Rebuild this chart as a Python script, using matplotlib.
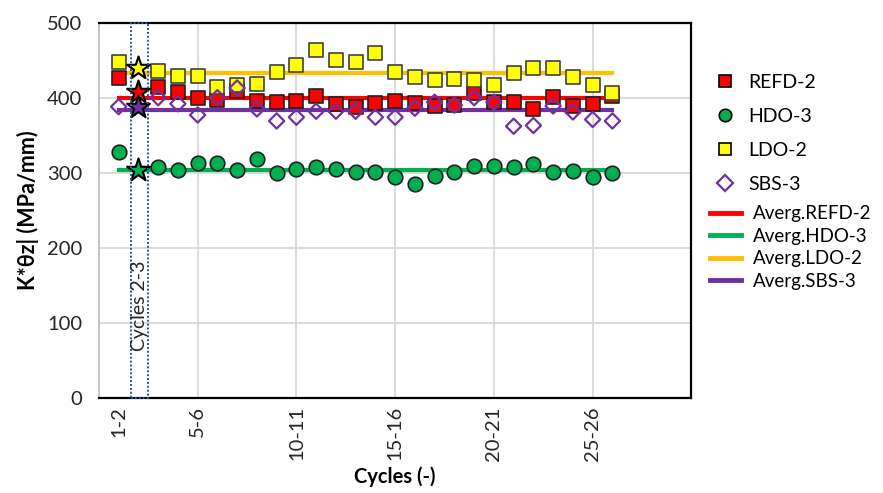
import numpy as np
import matplotlib.pyplot as plt
from matplotlib.patches import Rectangle
from matplotlib.lines import Line2D

plt.rcParams['font.family'] = ['Lato', 'DejaVu Sans']

# cycle index (1 = cycles 1-2, 2 = cycles 2-3, ...)
cycle = np.arange(1, 27)
tick_pos = [1, 5, 10, 15, 20, 25]
tick_labels = ['1-2', '5-6', '10-11', '15-16', '20-21', '25-26']

refd = [426, 408, 414, 408, 399, 397, 409, 395, 394, 396, 402, 392, 387,
        393, 396, 393, 389, 390, 406, 394, 394, 385, 401, 389, 391, 402]
hdo = [328, 304, 307, 303, 313, 313, 304, 318, 300, 305, 308, 305, 301,
       301, 294, 285, 295, 301, 309, 309, 308, 311, 301, 302, 294, 300]
ldo = [447, 440, 435, 429, 429, 414, 417, 418, 434, 443, 464, 450, 447,
       459, 434, 428, 423, 425, 423, 417, 433, 440, 439, 428, 417, 406]
sbs = [388, 388, 400, 392, 377, 400, 413, 385, 369, 374, 382, 382, 382,
       374, 374, 386, 394, 390, 400, 394, 362, 363, 389, 381, 371, 369]

# averages as drawn
avg_refd = 399
avg_hdo = 304
avg_ldo = 433
avg_sbs = 383

fig = plt.figure(figsize=(8.83, 4.93), dpi=100)
ax = fig.add_axes([0.112, 0.193, 0.671, 0.761])

# grid
for v in [100, 200, 300, 400]:
    ax.axhline(v, color='#d9d9d9', lw=1.3, zorder=0)
for v in [5, 10, 15, 20, 25]:
    ax.axvline(v, color='#d9d9d9', lw=1.3, zorder=0)

# average lines
ax.plot([1, 26], [avg_refd] * 2, color='#ff0000', lw=3, zorder=1)
ax.plot([1, 26], [avg_hdo] * 2, color='#00b050', lw=3, zorder=1)
ax.plot([1, 26], [avg_ldo] * 2, color='#ffc000', lw=3, zorder=1)
ax.plot([1, 26], [avg_sbs] * 2, color='#7030a0', lw=3, zorder=1)

mask = cycle != 2
series = [
    (refd, 's', '#ff0000', '#202020', 95),
    (hdo, 'o', '#00b050', '#202020', 110),
    (ldo, 's', '#ffff00', '#404040', 95),
]
for vals, mk, fc, ec, s in series:
    vals = np.array(vals)
    ax.scatter(cycle[mask], vals[mask], marker=mk, s=s, facecolor=fc,
               edgecolor=ec, linewidth=1.2, zorder=3)
sbs_arr = np.array(sbs)
ax.scatter(cycle[mask], sbs_arr[mask], marker='D', s=60, facecolor='none',
           edgecolor='#7030a0', linewidth=1.6, zorder=4)

# highlighted cycle 2-3 as stars
for vals, fc in [(ldo, '#ffff00'), (refd, '#ff0000'), (sbs, '#7030a0'), (hdo, '#00b050')]:
    ax.scatter([2], [vals[1]], marker='*', s=300, facecolor=fc,
               edgecolor='black', linewidth=1.5, zorder=5)

# dotted box for cycles 2-3
ax.add_patch(Rectangle((1.62, 0), 0.88, 500, fill=False, ls=(0, (1, 1)),
                       ec='#2f5597', lw=1.4, zorder=6, clip_on=False))
ax.text(2.07, 123, 'Cycles 2-3', rotation=90, ha='center', va='center',
        fontsize=14, color='#262626', zorder=7)

ax.set_xlim(0, 30)
ax.set_ylim(0, 500)
ax.set_yticks([0, 100, 200, 300, 400, 500])
ax.set_xticks(tick_pos)
ax.set_xticklabels(tick_labels, rotation=90)
ax.tick_params(length=0, labelsize=14.5, colors='#262626')
ax.tick_params(axis='y', pad=12)
ax.tick_params(axis='x', pad=6)
ax.set_ylabel('K*θz| (MPa/mm)', fontsize=15.5, fontweight='bold', labelpad=6)
ax.set_xlabel('Cycles (-)', fontsize=14.5, fontweight='bold', labelpad=4)

for side in ['top', 'right', 'bottom']:
    ax.spines[side].set_color('black')
    ax.spines[side].set_linewidth(1.6)
ax.spines['left'].set_color('#bfbfbf')
ax.spines['left'].set_linewidth(1.3)

# legends
mk_handles = [
    Line2D([], [], ls='none', marker='s', ms=8, mfc='#ff0000', mec='black', mew=1.2),
    Line2D([], [], ls='none', marker='o', ms=9, mfc='#00b050', mec='black', mew=1.2),
    Line2D([], [], ls='none', marker='s', ms=8, mfc='#ffff00', mec='black', mew=1.2),
    Line2D([], [], ls='none', marker='D', ms=8, mfc='none', mec='#7030a0', mew=1.6),
]
leg1 = ax.legend(mk_handles, ['REFD-2', 'HDO-3', 'LDO-2', 'SBS-3'],
                 loc='upper left', bbox_to_anchor=(0.795, 0.87),
                 bbox_transform=fig.transFigure, frameon=False, fontsize=14,
                 labelspacing=0.88, handlelength=1.4, handletextpad=0.5,
                 borderpad=0)
ax.add_artist(leg1)
ln_handles = [Line2D([], [], color=c, lw=3.5)
              for c in ['#ff0000', '#00b050', '#ffc000', '#7030a0']]
ax.legend(ln_handles, ['Averg.REFD-2', 'Averg.HDO-3', 'Averg.LDO-2', 'Averg.SBS-3'],
          loc='upper left', bbox_to_anchor=(0.793, 0.603),
          bbox_transform=fig.transFigure, frameon=False, fontsize=13.5,
          labelspacing=0.3, handlelength=1.7, handletextpad=0.6, borderpad=0)

plt.savefig('out.png', dpi=100)
